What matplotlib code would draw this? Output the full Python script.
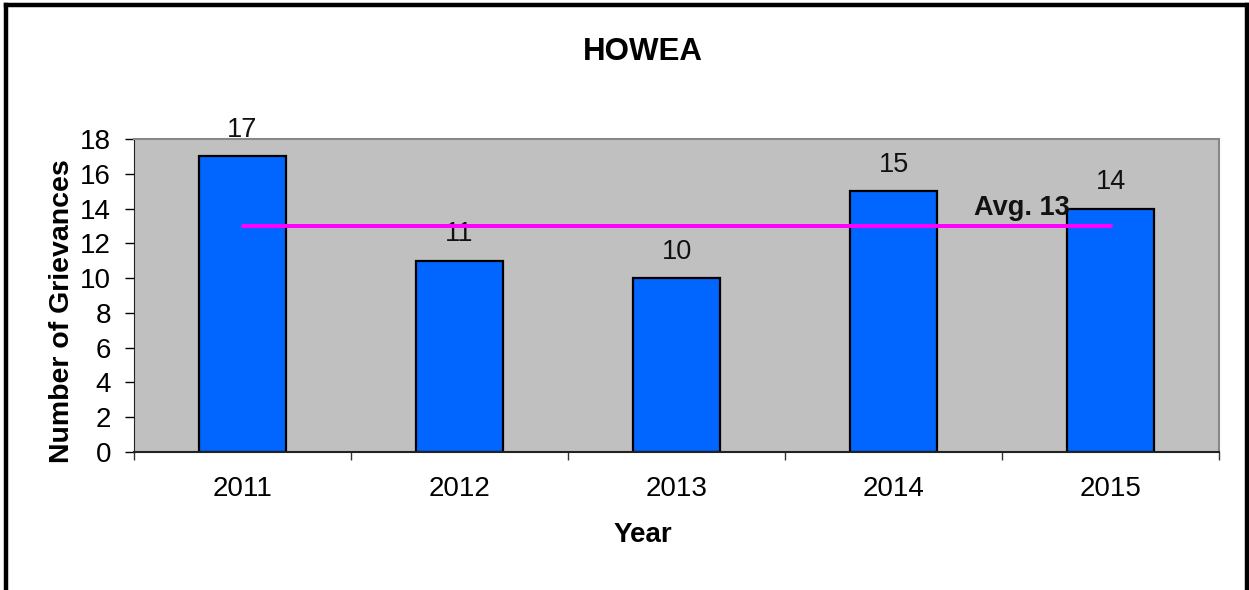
import matplotlib
matplotlib.use("Agg")
import matplotlib.pyplot as plt
from matplotlib.lines import Line2D
import numpy as np

plt.rcParams['font.family'] = ['Liberation Sans', 'DejaVu Sans']

years = ['2011', '2012', '2013', '2014', '2015']
grievances = [17, 11, 10, 15, 14]
average = 13

fig = plt.figure(figsize=(12.49, 5.9), dpi=100)
ax = fig.add_axes([0.1073, 0.2339, 0.8687, 0.5305])
ax.set_facecolor('#C0C0C0')

x = np.arange(len(years))
ax.bar(x, grievances, width=0.4, color='#0066FF', edgecolor='black', linewidth=1.6, zorder=2)

# value labels above each bar
for xi, v in zip(x, grievances):
    ax.annotate(str(v), (xi, v), xytext=(0, 14), textcoords='offset points',
                ha='center', va='baseline', fontsize=19.5, color='#111111')

# average line from first to last year
ax.plot([x[0], x[-1]], [average, average], color='#FF00FF', linewidth=2.9, zorder=3,
        solid_capstyle='round')
ax.text(3.37, 13.63, 'Avg. %d' % average, fontsize=19.5, fontweight='bold',
        ha='left', va='baseline', color='#111111', zorder=4)

ax.set_xlim(-0.5, 4.5)
ax.set_ylim(0, 18)
ax.set_yticks(range(0, 19, 2))
ax.set_xticks(x)
ax.set_xticklabels(years)
ax.set_xticks(np.arange(-0.5, 5, 1), minor=True)
ax.tick_params(axis='x', which='major', length=0, pad=17.5, labelsize=20)
ax.tick_params(axis='x', which='minor', length=6, width=1, color='#333333', direction='out')
ax.tick_params(axis='y', length=6.5, width=1, pad=10, labelsize=20, direction='out')

for side in ('top', 'right'):
    ax.spines[side].set_color('#888888')
    ax.spines[side].set_linewidth(1.5)
ax.spines['left'].set_color('#222222')
ax.spines['bottom'].set_color('#222222')
ax.spines['bottom'].set_linewidth(1.5)

ax.set_ylabel('Number of Grievances', fontsize=20.5, fontweight='bold')
ax.yaxis.set_label_coords(-0.054, 0.449)
ax.set_xlabel('Year', fontsize=20, fontweight='bold')
ax.xaxis.set_label_coords((643 - 134) / 1085, -0.224)
fig.text(643 / 1249, 1 - 52 / 590, 'HOWEA', ha='center', va='center',
         fontsize=22.5, fontweight='bold')

# outer frame: left, top and right edges
for xs, ys in (([0.0048, 0.0048], [0, 0.9915]),
               ([0.0048, 0.998], [0.9915, 0.9915]),
               ([0.998, 0.998], [0, 0.9915])):
    fig.add_artist(Line2D(xs, ys, transform=fig.transFigure, color='black', linewidth=3.2))

fig.savefig('out.png', dpi=100)
